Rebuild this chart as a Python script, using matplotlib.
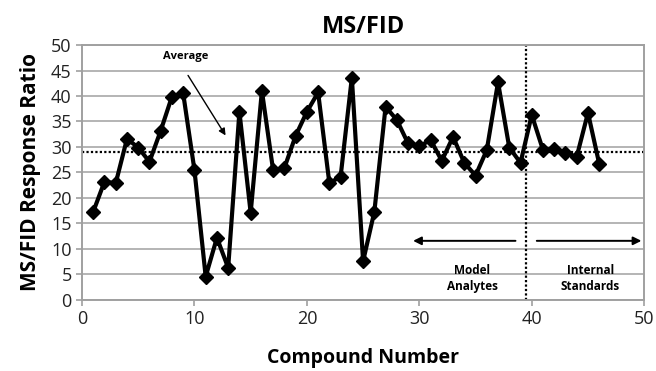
import matplotlib.pyplot as plt
import numpy as np

plt.rcParams['font.family'] = ['Open Sans', 'DejaVu Sans']

# MS/FID response ratio per compound
compound = np.arange(1, 47)
ratio = [17.3, 23.2, 22.9, 31.6, 29.9, 27.1, 33.2, 39.9, 40.5, 25.5,
         4.6, 12.2, 6.3, 36.9, 17.1, 41.0, 25.4, 25.9, 32.2, 36.9,
         40.7, 22.9, 24.2, 43.6, 7.6, 17.3, 37.9, 35.3, 30.7, 30.1,
         31.4, 27.3, 32.0, 26.9, 24.4, 29.4, 42.7, 29.9, 26.9, 36.3,
         29.4, 29.7, 28.8, 28.1, 36.7, 26.7]
average = 29.0
split_at = 39.5

fig = plt.figure(figsize=(6.56, 3.71), dpi=100)
ax = fig.add_axes([0.125, 0.1914, 0.857, 0.6873])

ax.set_xlim(0, 50)
ax.set_ylim(0, 50)
ax.set_xticks(range(0, 51, 10))
ax.set_yticks(range(0, 51, 5))
ax.yaxis.grid(True, color='#b4b4b4', lw=1.4)
ax.set_axisbelow(True)
for sp in ax.spines.values():
    sp.set_color('#a0a0a0')
    sp.set_linewidth(1.4)
ax.tick_params(axis='both', colors='#a0a0a0', length=4, width=1.2,
               labelsize=13, labelcolor='#222222')

ax.plot(compound, ratio, color='black', lw=3, marker='D', ms=7.5,
        mfc='black', mec='black', zorder=3)

# average and group divider
ax.axhline(average, color='black', lw=1.6, ls=(0, (1, 1)), zorder=2)
ax.axvline(split_at, color='black', lw=1.6, ls=(0, (1, 1)), zorder=2)

ax.annotate('', xy=(12.9, 31.8), xytext=(9.3, 44.5),
            arrowprops=dict(arrowstyle='-|>', color='black', lw=1, mutation_scale=10))
ax.text(9.2, 47.8, 'Average', ha='center', va='center', fontsize=8, fontweight='bold')

ax.annotate('', xy=(29.2, 11.6), xytext=(38.8, 11.6),
            arrowprops=dict(arrowstyle='-|>', color='black', lw=1.4, mutation_scale=12))
ax.annotate('', xy=(50, 11.6), xytext=(40.2, 11.6),
            arrowprops=dict(arrowstyle='-|>', color='black', lw=1.4, mutation_scale=12),
            annotation_clip=False)
ax.text(34.7, 4.3, 'Model\nAnalytes', ha='center', va='center', fontsize=8.5,
        fontweight='bold', linespacing=1.3)
ax.text(45.2, 4.3, 'Internal\nStandards', ha='center', va='center', fontsize=8.5,
        fontweight='bold', linespacing=1.3)

ax.set_title('MS/FID', fontsize=17, fontweight='bold', pad=9)
ax.set_xlabel('Compound Number', fontsize=14, fontweight='bold', labelpad=14)
ax.set_ylabel('MS/FID Response Ratio', fontsize=15, fontweight='bold', labelpad=7)

fig.savefig('out.png', dpi=100)
